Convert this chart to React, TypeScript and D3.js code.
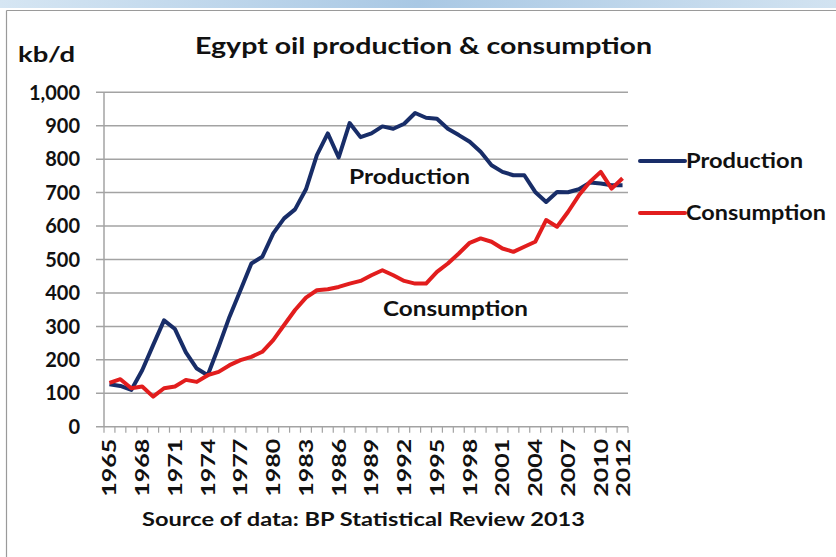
import React from "react";
import * as d3 from "d3";

const years: number[] = [
  1965, 1966, 1967, 1968, 1969, 1970, 1971, 1972, 1973, 1974, 1975, 1976,
  1977, 1978, 1979, 1980, 1981, 1982, 1983, 1984, 1985, 1986, 1987, 1988,
  1989, 1990, 1991, 1992, 1993, 1994, 1995, 1996, 1997, 1998, 1999, 2000,
  2001, 2002, 2003, 2004, 2005, 2006, 2007, 2008, 2009, 2010, 2011, 2012,
];

const production: number[] = [
  127, 122, 110, 169, 244, 318, 292, 222, 174, 154, 239, 329,
  408, 488, 508, 578, 623, 650, 710, 812, 877, 805, 908, 866,
  877, 898, 891, 906, 938, 924, 921, 891, 872, 852, 822, 782,
  762, 752, 752, 702, 672, 702, 701, 710, 730, 727, 722, 722,
];

const consumption: number[] = [
  131, 142, 115, 120, 90, 115, 120, 140, 134, 154, 164, 184,
  199, 209, 224, 259, 304, 349, 386, 408, 411, 418, 428, 436,
  453, 468, 453, 436, 428, 428, 463, 488, 518, 550, 563, 553,
  533, 523, 538, 553, 618, 598, 642, 692, 732, 762, 712, 743,
];

const yTicks: number[] = [0, 100, 200, 300, 400, 500, 600, 700, 800, 900, 1000];
const xLabelYears: number[] = [
  1965, 1968, 1971, 1974, 1977, 1980, 1983, 1986, 1989, 1992, 1995, 1998,
  2001, 2004, 2007, 2010, 2012,
];

const title = "Egypt oil production & consumption";
const unitLabel = "kb/d";
const sourceLabel = "Source of data: BP Statistical Review 2013";
const seriesNames = ["Production", "Consumption"];

const W = 836;
const H = 557;
const FONT = "Lato, 'Open Sans', 'DejaVu Sans', sans-serif";
const BLUE = "#182d68";
const RED = "#e21d1d";
const GRID = "#a3a3a3";

export default function App() {
  const x = d3.scaleBand<number>().domain(years).range([104, 628]).padding(0);
  const y = d3.scaleLinear().domain([0, 1000]).range([426.7, 92.3]);
  const cx = (yr: number) => (x(yr) as number) + x.bandwidth() / 2;

  const line = d3
    .line<number>()
    .x((_, i) => cx(years[i]))
    .y((v) => y(v));

  const fmt = d3.format(",");
  const xTickPositions = years.map((yr) => x(yr) as number).concat([628]);

  return (
    <svg
      width={W}
      height={H}
      style={{ position: "absolute", left: 0, top: 0, background: "#fff" }}
    >
      <defs>
        <linearGradient id="topbar" x1="0" x2="1" y1="0" y2="0">
          <stop offset="0" stopColor="#d6e6f3" />
          <stop offset="0.5" stopColor="#a9c8e4" />
          <stop offset="1" stopColor="#d2e3f1" />
        </linearGradient>
      </defs>
      <rect x={0} y={0} width={W} height={H} fill="#fff" />
      <rect x={0} y={0} width={W} height={8} fill="url(#topbar)" />
      <line x1={6.5} x2={W} y1={10.5} y2={10.5} stroke="#9a9a9a" strokeWidth={1.2} />
      <line x1={6.5} x2={6.5} y1={10.5} y2={H} stroke="#9a9a9a" strokeWidth={1.2} />

      {/* gridlines */}
      {yTicks.map((t) => (
        <line
          key={"g" + t}
          x1={96}
          x2={628}
          y1={y(t)}
          y2={y(t)}
          stroke={GRID}
          strokeWidth={1.5}
        />
      ))}
      {/* y axis */}
      <line x1={104} x2={104} y1={y(1000)} y2={y(0)} stroke={GRID} strokeWidth={1.5} />
      {/* x ticks */}
      {xTickPositions.map((px, i) => (
        <line
          key={"xt" + i}
          x1={px}
          x2={px}
          y1={y(0)}
          y2={y(0) + 6}
          stroke={GRID}
          strokeWidth={1.2}
        />
      ))}

      {/* y labels */}
      {yTicks.map((t) => (
        <text
          key={"yl" + t}
          x={80}
          y={y(t)}
          dy="0.36em"
          textAnchor="end"
          fontFamily={FONT}
          fontWeight={700}
          fontSize={20}
          fill="#111"
        >
          {fmt(t)}
        </text>
      ))}

      {/* x labels */}
      {xLabelYears.map((yr) => (
        <text
          key={"xl" + yr}
          transform={`translate(${cx(yr) + 7},${y(0) + 12}) rotate(-90)`}
          textAnchor="end"
          fontFamily={FONT}
          fontWeight={700}
          fontSize={19}
          textLength={58}
          lengthAdjust="spacingAndGlyphs"
          fill="#111"
        >
          {yr}
        </text>
      ))}

      {/* series */}
      <path d={line(production) || ""} fill="none" stroke={BLUE} strokeWidth={4} strokeLinejoin="round" />
      <path d={line(consumption) || ""} fill="none" stroke={RED} strokeWidth={4} strokeLinejoin="round" />

      {/* title and labels */}
      <text
        x={195}
        y={54}
        fontFamily={FONT}
        fontWeight={700}
        fontSize={23}
        textLength={457}
        lengthAdjust="spacingAndGlyphs"
        fill="#111"
      >
        {title}
      </text>
      <text x={18} y={62} fontFamily={FONT} fontWeight={700} fontSize={20} textLength={57} lengthAdjust="spacingAndGlyphs" fill="#111">
        {unitLabel}
      </text>

      <text x={349} y={184} fontFamily={FONT} fontWeight={700} fontSize={20} textLength={121} lengthAdjust="spacingAndGlyphs" fill="#111">
        {seriesNames[0]}
      </text>
      <text x={383} y={316} fontFamily={FONT} fontWeight={700} fontSize={20} textLength={145} lengthAdjust="spacingAndGlyphs" fill="#111">
        {seriesNames[1]}
      </text>

      {/* legend */}
      <line x1={640} x2={685} y1={161} y2={161} stroke={BLUE} strokeWidth={4} strokeLinecap="round" />
      <text x={686} y={168} fontFamily={FONT} fontWeight={700} fontSize={20} textLength={117} lengthAdjust="spacingAndGlyphs" fill="#111">
        {seriesNames[0]}
      </text>
      <line x1={640} x2={685} y1={213} y2={213} stroke={RED} strokeWidth={4} strokeLinecap="round" />
      <text x={686} y={220} fontFamily={FONT} fontWeight={700} fontSize={20} textLength={140} lengthAdjust="spacingAndGlyphs" fill="#111">
        {seriesNames[1]}
      </text>

      <text x={142} y={526} fontFamily={FONT} fontWeight={700} fontSize={19} textLength={443} lengthAdjust="spacingAndGlyphs" fill="#111">
        {sourceLabel}
      </text>
    </svg>
  );
}
